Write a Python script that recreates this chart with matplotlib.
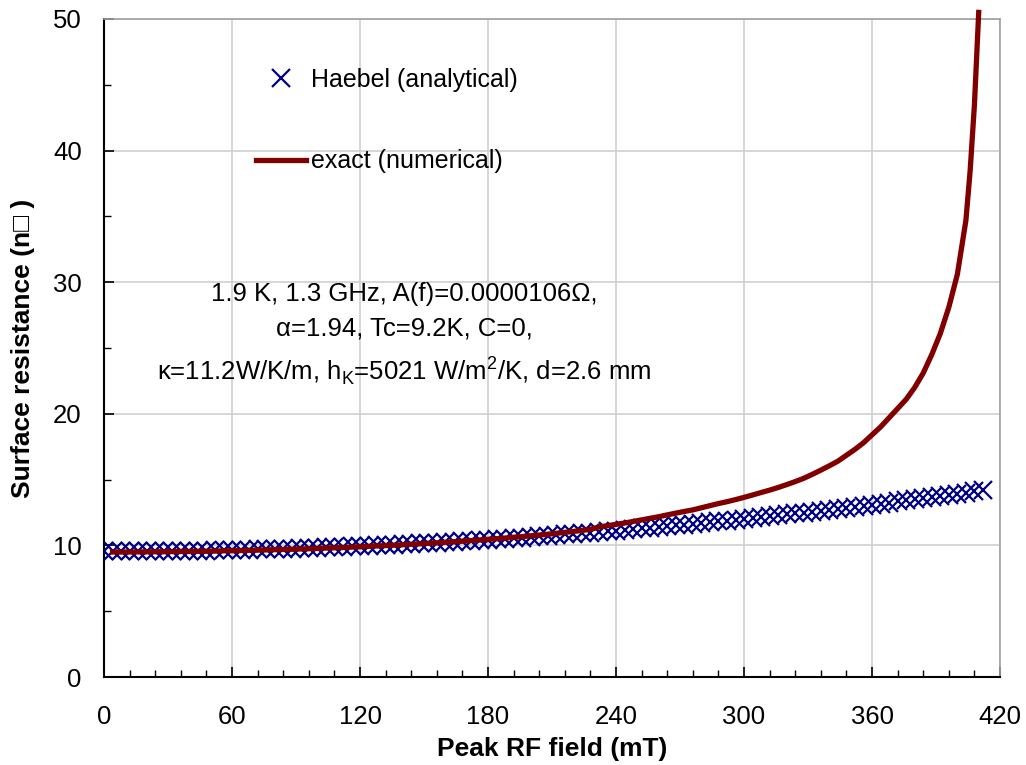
import matplotlib
matplotlib.use("Agg")
import matplotlib.pyplot as plt
from matplotlib.ticker import MultipleLocator

plt.rcParams['font.family'] = ['Liberation Sans', 'DejaVu Sans']

# Haebel (analytical), every 4 mT from 0 to 412
haebel_field = list(range(0, 413, 4))
haebel_rs = [9.55, 9.55, 9.55, 9.55, 9.56, 9.56, 9.57, 9.57, 9.58, 9.59,
             9.59, 9.60, 9.61, 9.62, 9.64, 9.65, 9.66, 9.68, 9.69, 9.71,
             9.73, 9.74, 9.76, 9.78, 9.80, 9.82, 9.85, 9.87, 9.89, 9.92,
             9.94, 9.97, 10.00, 10.03, 10.06, 10.09, 10.12, 10.15, 10.18, 10.22,
             10.25, 10.29, 10.32, 10.36, 10.40, 10.44, 10.48, 10.52, 10.56, 10.60,
             10.65, 10.69, 10.74, 10.78, 10.83, 10.88, 10.92, 10.97, 11.02, 11.08,
             11.13, 11.18, 11.24, 11.29, 11.35, 11.40, 11.46, 11.52, 11.58, 11.64,
             11.70, 11.76, 11.82, 11.89, 11.95, 12.02, 12.08, 12.15, 12.22, 12.29,
             12.36, 12.43, 12.50, 12.57, 12.64, 12.72, 12.79, 12.87, 12.94, 13.02,
             13.10, 13.18, 13.26, 13.34, 13.42, 13.51, 13.59, 13.67, 13.76, 13.85,
             13.93, 14.02, 14.11, 14.20]

# exact (numerical)
exact_field = list(range(4, 401, 4)) + [404, 406, 408, 409, 410]
exact_rs = [9.50, 9.50, 9.50, 9.51, 9.51, 9.52, 9.52, 9.53, 9.54, 9.54,
            9.55, 9.56, 9.57, 9.59, 9.60, 9.61, 9.63, 9.64, 9.66, 9.68,
            9.69, 9.71, 9.73, 9.75, 9.77, 9.80, 9.82, 9.84, 9.87, 9.90,
            9.93, 9.96, 9.99, 10.02, 10.05, 10.09, 10.12, 10.16, 10.20, 10.24,
            10.28, 10.32, 10.37, 10.41, 10.46, 10.51, 10.56, 10.62, 10.67, 10.73,
            10.79, 10.85, 10.92, 10.99, 11.06, 11.14, 11.22, 11.40, 11.50, 11.60,
            11.70, 11.82, 11.94, 12.06, 12.18, 12.32, 12.45, 12.58, 12.70, 12.86,
            13.02, 13.18, 13.32, 13.48, 13.65, 13.83, 14.02, 14.20, 14.40, 14.62,
            14.85, 15.10, 15.40, 15.72, 16.05, 16.40, 16.85, 17.30, 17.80, 18.40,
            19.00, 19.70, 20.40, 21.10, 22.00, 23.10, 24.50, 26.10, 28.10, 30.60,
            34.70, 38.50, 43.50, 47.00, 50.50]

x_ticks = [0, 60, 120, 180, 240, 300, 360, 420]
y_ticks = [0, 10, 20, 30, 40, 50]

fig = plt.figure(figsize=(10.26, 7.65), dpi=100)
ax = fig.add_axes([0.1014, 0.115, 0.8733, 0.8602])

ax.plot(haebel_field, haebel_rs, linestyle='none', marker='x', ms=13,
        mew=1.6, color='#000080', label='Haebel (analytical)', zorder=3)
ax.plot(exact_field, exact_rs, color='#800000', lw=3.8,
        label='exact (numerical)', zorder=4, clip_on=False)

ax.set_xlim(0, 420)
ax.set_ylim(0, 50)
ax.set_xticks(x_ticks)
ax.set_yticks(y_ticks)
ax.xaxis.set_minor_locator(MultipleLocator(12))
ax.yaxis.set_minor_locator(MultipleLocator(5))
ax.tick_params(which='both', direction='in', labelsize=18.5, color='black')
ax.tick_params(axis='x', which='major', length=7, width=1.2, pad=20)
ax.tick_params(axis='x', which='minor', length=5, width=1)
ax.tick_params(axis='y', which='major', length=7, width=1.2, pad=16)
ax.tick_params(axis='y', which='minor', length=5, width=1)
ax.grid(True, which='major', color='#d0d0d0', lw=1.2)
ax.set_axisbelow(True)

for s in ['left', 'bottom']:
    ax.spines[s].set_color('black')
    ax.spines[s].set_linewidth(1.5)
for s in ['top', 'right']:
    ax.spines[s].set_color('#a0a0a0')
    ax.spines[s].set_linewidth(1.2)

ax.set_xlabel('Peak RF field (mT)', fontsize=19, fontweight='bold', labelpad=6)
ax.set_ylabel('Surface resistance (n\u25a1 )', fontsize=19, fontweight='bold', labelpad=13)

ax.legend(loc='upper left', bbox_to_anchor=(0.145, 0.96), frameon=False,
          fontsize=18, handlelength=2.0, handletextpad=0.2, labelspacing=2.3)

ax.text(0.335, 0.52,
        '1.9 K, 1.3 GHz, A(f)=0.0000106\u03a9,\n'
        '\u03b1=1.94, Tc=9.2K, C=0,\n'
        '\u03ba=11.2W/K/m, h$_\\mathregular{K}$=5021 W/m$^\\mathregular{2}$/K, d=2.6 mm',
        transform=ax.transAxes, ha='center', va='center', fontsize=18.5,
        linespacing=1.55)

fig.savefig('out.png', dpi=100)
